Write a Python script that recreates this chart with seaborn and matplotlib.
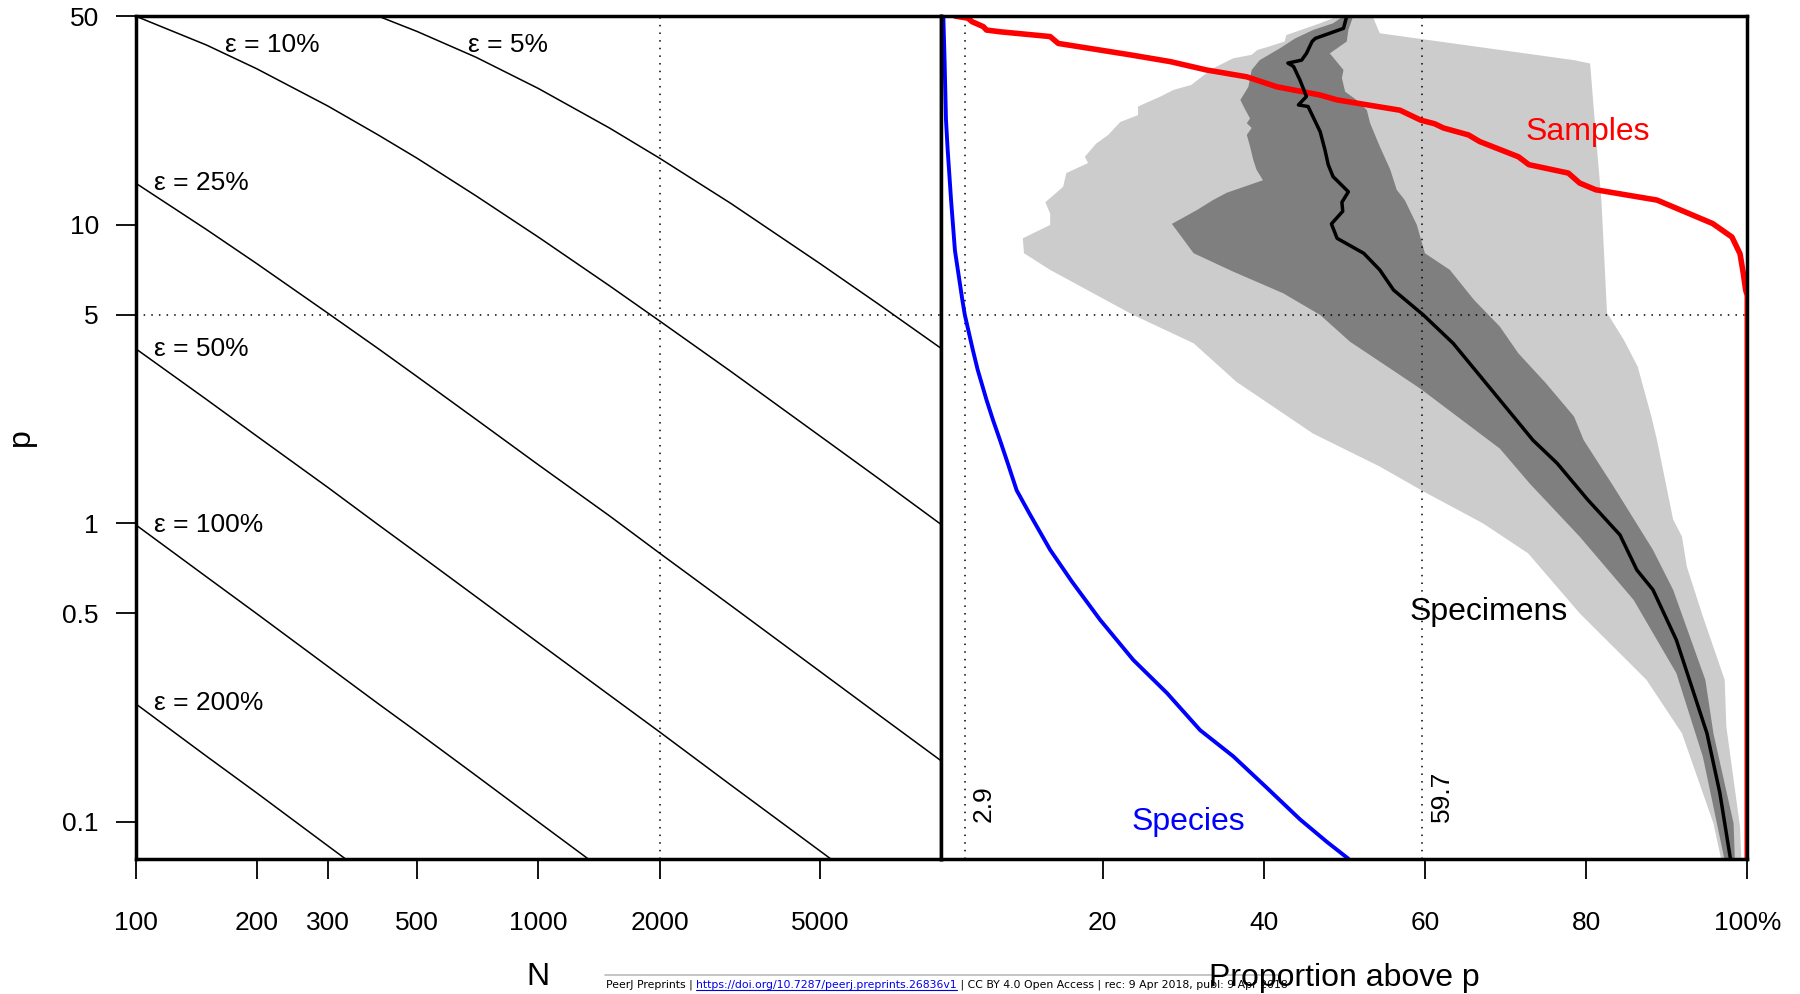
import matplotlib
matplotlib.use("Agg")
import matplotlib.pyplot as plt
import pandas as pd
import seaborn as sns
from matplotlib.lines import Line2D
from matplotlib.ticker import NullLocator

# Left panel: sample size N needed for a relative error eps at prevalence p (%)
n_grid = [100, 150, 200, 300, 400, 500, 700, 1000, 1500, 2000, 3000, 5000, 7000, 10000]
eps_names = ["5%", "10%", "25%", "50%", "100%", "200%"]
p_eps_5 = [80, 72.7, 66.7, 57.1, 50, 44.4, 36.4, 28.6, 21.1, 16.7, 11.8, 7.41, 5.41, 3.85]
p_eps_10 = [50, 40, 33.3, 25, 20, 16.7, 12.5, 9.09, 6.25, 4.76, 3.23, 1.96, 1.41, 0.99]
p_eps_25 = [13.8, 9.64, 7.41, 5.06, 3.85, 3.10, 2.23, 1.57, 1.06, 0.794, 0.531, 0.319, 0.228, 0.160]
p_eps_50 = [3.85, 2.60, 1.96, 1.32, 0.990, 0.794, 0.568, 0.398, 0.266, 0.200, 0.133, 0.0799, 0.0571, 0.0400]
p_eps_100 = [0.990, 0.662, 0.498, 0.332, 0.249, 0.200, 0.143, 0.0999, 0.0666, 0.0500, 0.0333, 0.0200, 0.0143, 0.0100]
p_eps_200 = [0.249, 0.166, 0.125, 0.0832, 0.0624, 0.0500, 0.0357, 0.0250, 0.0167, 0.0125, 0.00833, 0.00500, 0.00357, 0.00250]

n_ticks = [100, 200, 300, 500, 1000, 2000, 5000]
p_ticks = [0.1, 0.5, 1, 5, 10, 50]
p_tick_labels = ["0.1", "0.5", "1", "5", "10", "50"]
pct_ticks = [20, 40, 60, 80, 100]
pct_tick_labels = ["20", "40", "60", "80", "100%"]

# Right panel: proportion (%) of species / samples / specimens above p
species_pct = [0.24, 0.4, 0.57, 0.78, 1.2, 1.68, 2.6, 2.9, 3.9, 4.5, 5.6, 6.4, 7.27, 8.3, 9.34, 11.0,
               13.5, 16.2, 19.7, 23.8, 28.0, 32.1, 36.2, 40.4, 44.5, 47.8, 50.5]
species_p = [50, 35, 22.4, 17.8, 12.1, 8.2, 5.6, 5.0, 3.81, 3.27, 2.59, 2.22, 1.90, 1.57, 1.29, 1.07,
             0.815, 0.638, 0.475, 0.349, 0.270, 0.203, 0.166, 0.130, 0.102, 0.0859, 0.0753]

samples_pct = [1.7, 3.3, 3.8, 5.2, 5.6, 7.3, 13.5, 14.5, 23.4, 28.4, 32.9, 37.9, 41.6, 47.0, 49.1,
               56.9, 59.5, 61.2, 62.3, 65.4, 66.8, 71.6, 72.9, 77.8, 79.2, 81.2, 88.8, 95.7, 98.1,
               99.1, 99.5, 99.8, 100, 100]
samples_p = [50, 49.2, 47.9, 46.1, 44.9, 44.3, 42.7, 40.5, 37.1, 35.2, 33.0, 31.3, 29.0, 27.2, 26.2,
             24.2, 22.4, 21.8, 21.1, 20.0, 19.0, 16.9, 15.9, 14.9, 13.8, 13.1, 12.1, 10.1, 9.1,
             8.0, 6.9, 6.05, 5.8, 0.05]

specimens_pct = [50.3, 49.9, 46.4, 46.0, 45.3, 44.7, 43.0, 43.7, 44.5, 45.3, 44.3, 45.5, 47.0, 47.6,
                 48.0, 48.6, 50.5, 49.7, 49.8, 48.4, 49.1, 52.4, 54.4, 56.1, 59.8, 63.5, 69.3, 73.4,
                 76.4, 80.2, 84.2, 86.3, 88.3, 91.2, 95.0, 96.6, 98.1]
specimens_p = [50, 45.5, 42.1, 41.1, 37.5, 35.6, 34.8, 33.9, 30.5, 26.9, 25.2, 24.9, 20.5, 17.8,
               15.9, 14.5, 12.9, 11.9, 11.1, 10.07, 9.01, 8.03, 7.06, 6.05, 4.99, 4.01, 2.59, 1.90,
               1.59, 1.20, 0.915, 0.698, 0.599, 0.407, 0.198, 0.125, 0.07]

# outer band (light grey), left and right edges
outer_left_pct = [49.0, 48.6, 47.0, 42.8, 42.6, 40.6, 39.2, 38.5, 36.2, 33.7, 32.3, 31.0, 28.8, 27.2,
                  24.4, 24.4, 22.2, 20.7, 19.2, 17.8, 18.2, 15.5, 15.1, 12.9, 13.5, 13.5, 10.1, 10.25,
                  13.5, 23.8, 31.3, 36.6, 46.1, 54.4, 59.8, 67.2, 72.8, 79.2, 87.5, 91.9, 95.8, 97.0]
outer_left_p = [50, 49.2, 47.3, 43.2, 41.1, 39.5, 38.5, 37.1, 36.1, 33.4, 31.3, 29.4, 28.3, 26.9,
                24.9, 23.3, 22.1, 20.0, 18.7, 16.9, 16.1, 14.9, 13.4, 11.9, 10.9, 9.99, 9.01, 8.03,
                7.06, 4.99, 4.01, 2.98, 2.00, 1.55, 1.28, 1.00, 0.794, 0.50, 0.299, 0.198, 0.099, 0.07]
outer_right_pct = [53.5, 54.4, 78.5, 80.5, 81.2, 81.9, 82.6, 82.9, 84.7, 86.4, 88.1, 88.8, 90.8, 91.9,
                   92.5, 94.5, 97.2, 97.4, 99.1, 99.3]
outer_right_p = [50, 43.8, 35.6, 34.7, 20.2, 12.1, 5.05, 4.92, 4.11, 3.35, 2.28, 1.90, 1.03, 0.903,
                 0.716, 0.487, 0.299, 0.209, 0.0965, 0.07]

# inner band (dark grey)
inner_left_pct = [49.9, 48.6, 46.1, 43.9, 42.0, 39.5, 38.5, 38.1, 37.1, 37.6, 38.3, 37.9, 38.5, 37.9,
                  38.3, 38.7, 39.1, 39.9, 35.4, 33.7, 31.7, 28.6, 31.3, 36.2, 42.4, 47.0, 50.7, 59.4,
                  69.3, 73.0, 79.2, 85.9, 91.2, 94.5, 97.4]
inner_left_p = [50, 47.3, 44.9, 42.1, 39.0, 35.6, 33.0, 29.0, 26.2, 24.6, 22.7, 21.9, 21.1, 20.0,
                18.3, 16.5, 15.3, 14.1, 12.8, 12.1, 11.2, 10.07, 8.03, 6.97, 5.90, 4.99, 4.06, 2.83,
                1.78, 1.36, 0.903, 0.554, 0.315, 0.165, 0.07]
inner_right_pct = [51.1, 50.5, 50.3, 48.2, 49.9, 49.7, 50.1, 51.5, 52.8, 53.2, 54.4, 55.7, 56.5, 57.5,
                   59.0, 60.0, 63.1, 66.1, 69.3, 71.6, 75.0, 78.5, 79.7, 83.4, 88.3, 90.8, 94.8, 95.8,
                   98.3, 98.5]
inner_right_p = [50, 44.9, 41.1, 37.5, 33.0, 31.0, 27.9, 26.2, 24.2, 21.9, 18.3, 15.3, 13.1, 12.1,
                 9.99, 8.03, 7.06, 5.60, 4.56, 3.71, 2.95, 2.28, 1.90, 1.33, 0.815, 0.599, 0.299, 0.198,
                 0.099, 0.07]

p_cut = 5
n_cut = 2000
species_at_cut = 2.9
specimens_at_cut = 59.7

W, H = 1800, 994
sns.set_theme(style="ticks", rc={"axes.edgecolor": "black", "xtick.color": "black",
                                 "ytick.color": "black", "text.color": "black"})
plt.rcParams["font.family"] = ["Liberation Sans", "DejaVu Sans"]

fig = plt.figure(figsize=(W / 100, H / 100), dpi=100, facecolor="white")
ax_n = fig.add_axes([0.0753, 0.1361, 0.4477, 0.8477])
ax_q = fig.add_axes([0.5230, 0.1361, 0.4477, 0.8477])

ylo, yhi = 0.0753, 50
dotted = dict(color="black", lw=1.1, ls=(0, (1, 4)), zorder=1.5)

# ---- left panel
ax_n.set_xscale("log")
ax_n.set_yscale("log")
eps_table = pd.DataFrame({"N": n_grid * 6,
                          "p": p_eps_5 + p_eps_10 + p_eps_25 + p_eps_50 + p_eps_100 + p_eps_200,
                          "eps": [e for e in eps_names for _ in n_grid]})
for name in eps_names:
    sub = eps_table[eps_table["eps"] == name]
    sns.lineplot(data=sub, x="N", y="p", ax=ax_n, color="black", linewidth=1.1,
                 sort=False, estimator=None)

eps_label_pos = {"5%": (668, 38.0), "10%": (167, 38.0), "25%": (111, 13.1),
                 "50%": (111, 3.64), "100%": (111, 0.938), "200%": (111, 0.237)}
for name in eps_names:
    xn, yp = eps_label_pos[name]
    ax_n.text(xn, yp, "\u03b5 = " + name, fontsize=19, ha="left", va="baseline")

ax_n.axvline(n_cut, **dotted)
ax_n.axhline(p_cut, **dotted)
ax_n.set_xlim(100, 10000)
ax_n.set_ylim(ylo, yhi)
ax_n.set_xticks(n_ticks)
ax_n.set_xticklabels([str(t) for t in n_ticks])
ax_n.set_yticks(p_ticks)
ax_n.set_yticklabels(p_tick_labels)
ax_n.xaxis.set_minor_locator(NullLocator())
ax_n.yaxis.set_minor_locator(NullLocator())
ax_n.tick_params(axis="x", length=14.4, width=1.3, pad=23.5, labelsize=19)
ax_n.tick_params(axis="y", length=14.4, width=1.3, pad=12, labelsize=19)
ax_n.set_xlabel("")
ax_n.set_ylabel("")

# ---- right panel
ax_q.set_yscale("log")
ax_q.fill(outer_left_pct + outer_right_pct[::-1], outer_left_p + outer_right_p[::-1],
          color="#CCCCCC", lw=0, zorder=1)
ax_q.fill(inner_left_pct + inner_right_pct[::-1], inner_left_p + inner_right_p[::-1],
          color="#7F7F7F", lw=0, zorder=1.1)
ax_q.axvline(species_at_cut, **dotted)
ax_q.axvline(specimens_at_cut, **dotted)
ax_q.axhline(p_cut, **dotted)

sns.lineplot(x=samples_pct, y=samples_p, ax=ax_q, color="#FF0000", linewidth=4.0,
             sort=False, estimator=None, zorder=2)
sns.lineplot(x=specimens_pct, y=specimens_p, ax=ax_q, color="black", linewidth=2.5,
             sort=False, estimator=None, zorder=2.1)
sns.lineplot(x=species_pct, y=species_p, ax=ax_q, color="#0000FF", linewidth=2.8,
             sort=False, estimator=None, zorder=2.2)

ax_q.text(80.2, 19.2, "Samples", color="#FF0000", fontsize=23, ha="center", va="baseline")
ax_q.text(67.9, 0.475, "Specimens", color="black", fontsize=23, ha="center", va="baseline")
ax_q.text(30.6, 0.094, "Species", color="#0000FF", fontsize=23, ha="center", va="baseline")
ax_q.text(species_at_cut + 0.9, 0.1, str(species_at_cut), fontsize=19, rotation=90,
          ha="left", va="bottom")
ax_q.text(specimens_at_cut + 0.9, 0.1, str(specimens_at_cut), fontsize=19, rotation=90,
          ha="left", va="bottom")

ax_q.set_xlim(0, 100)
ax_q.set_ylim(ylo, yhi)
ax_q.set_xticks(pct_ticks)
ax_q.set_xticklabels(pct_tick_labels)
ax_q.set_yticks([])
ax_q.yaxis.set_minor_locator(NullLocator())
ax_q.tick_params(axis="x", length=14.4, width=1.3, pad=23.5, labelsize=19)
ax_q.tick_params(axis="y", left=False, labelleft=False)
ax_q.set_xlabel("")
ax_q.set_ylabel("")

for ax in (ax_n, ax_q):
    for sp in ax.spines.values():
        sp.set_visible(True)
        sp.set_linewidth(2.5)
        sp.set_color("black")

# axis titles
fig.text(538 / W, 1 - 985 / H, "N", fontsize=23, ha="center", va="baseline")
fig.text(1344 / W, 1 - 986 / H, "Proportion above p", fontsize=23, ha="center", va="baseline")
fig.text(21 / W, 1 - 437 / H, "p", fontsize=23, rotation=90, ha="center", va="center")

# preprint footer
fig.add_artist(Line2D([605 / W, 1280 / W], [1 - 975 / H, 1 - 975 / H],
                      color="#BBBBBB", lw=1.2, transform=fig.transFigure))
foot_font = dict(fontsize=7.8, family=["Liberation Sans Narrow", "DejaVu Sans"], va="baseline")
fig.canvas.draw()
renderer = fig.canvas.get_renderer()
fy = 1 - 988 / H
t1 = fig.text(606 / W, fy, "PeerJ Preprints | ", color="black", **foot_font)
x_next = t1.get_window_extent(renderer).x1 / W
t2 = fig.text(x_next, fy, "https://doi.org/10.7287/peerj.preprints.26836v1", color="#0000EE",
              **foot_font)
bb2 = t2.get_window_extent(renderer)
fig.add_artist(Line2D([bb2.x0 / W, bb2.x1 / W], [fy - 2 / H, fy - 2 / H], color="#0000EE",
                      lw=0.8, transform=fig.transFigure))
fig.text(bb2.x1 / W, fy, " | CC BY 4.0 Open Access | rec: 9 Apr 2018, publ: 9 Apr 2018",
         color="black", **foot_font)

fig.savefig("out.png", dpi=100, facecolor="white")
